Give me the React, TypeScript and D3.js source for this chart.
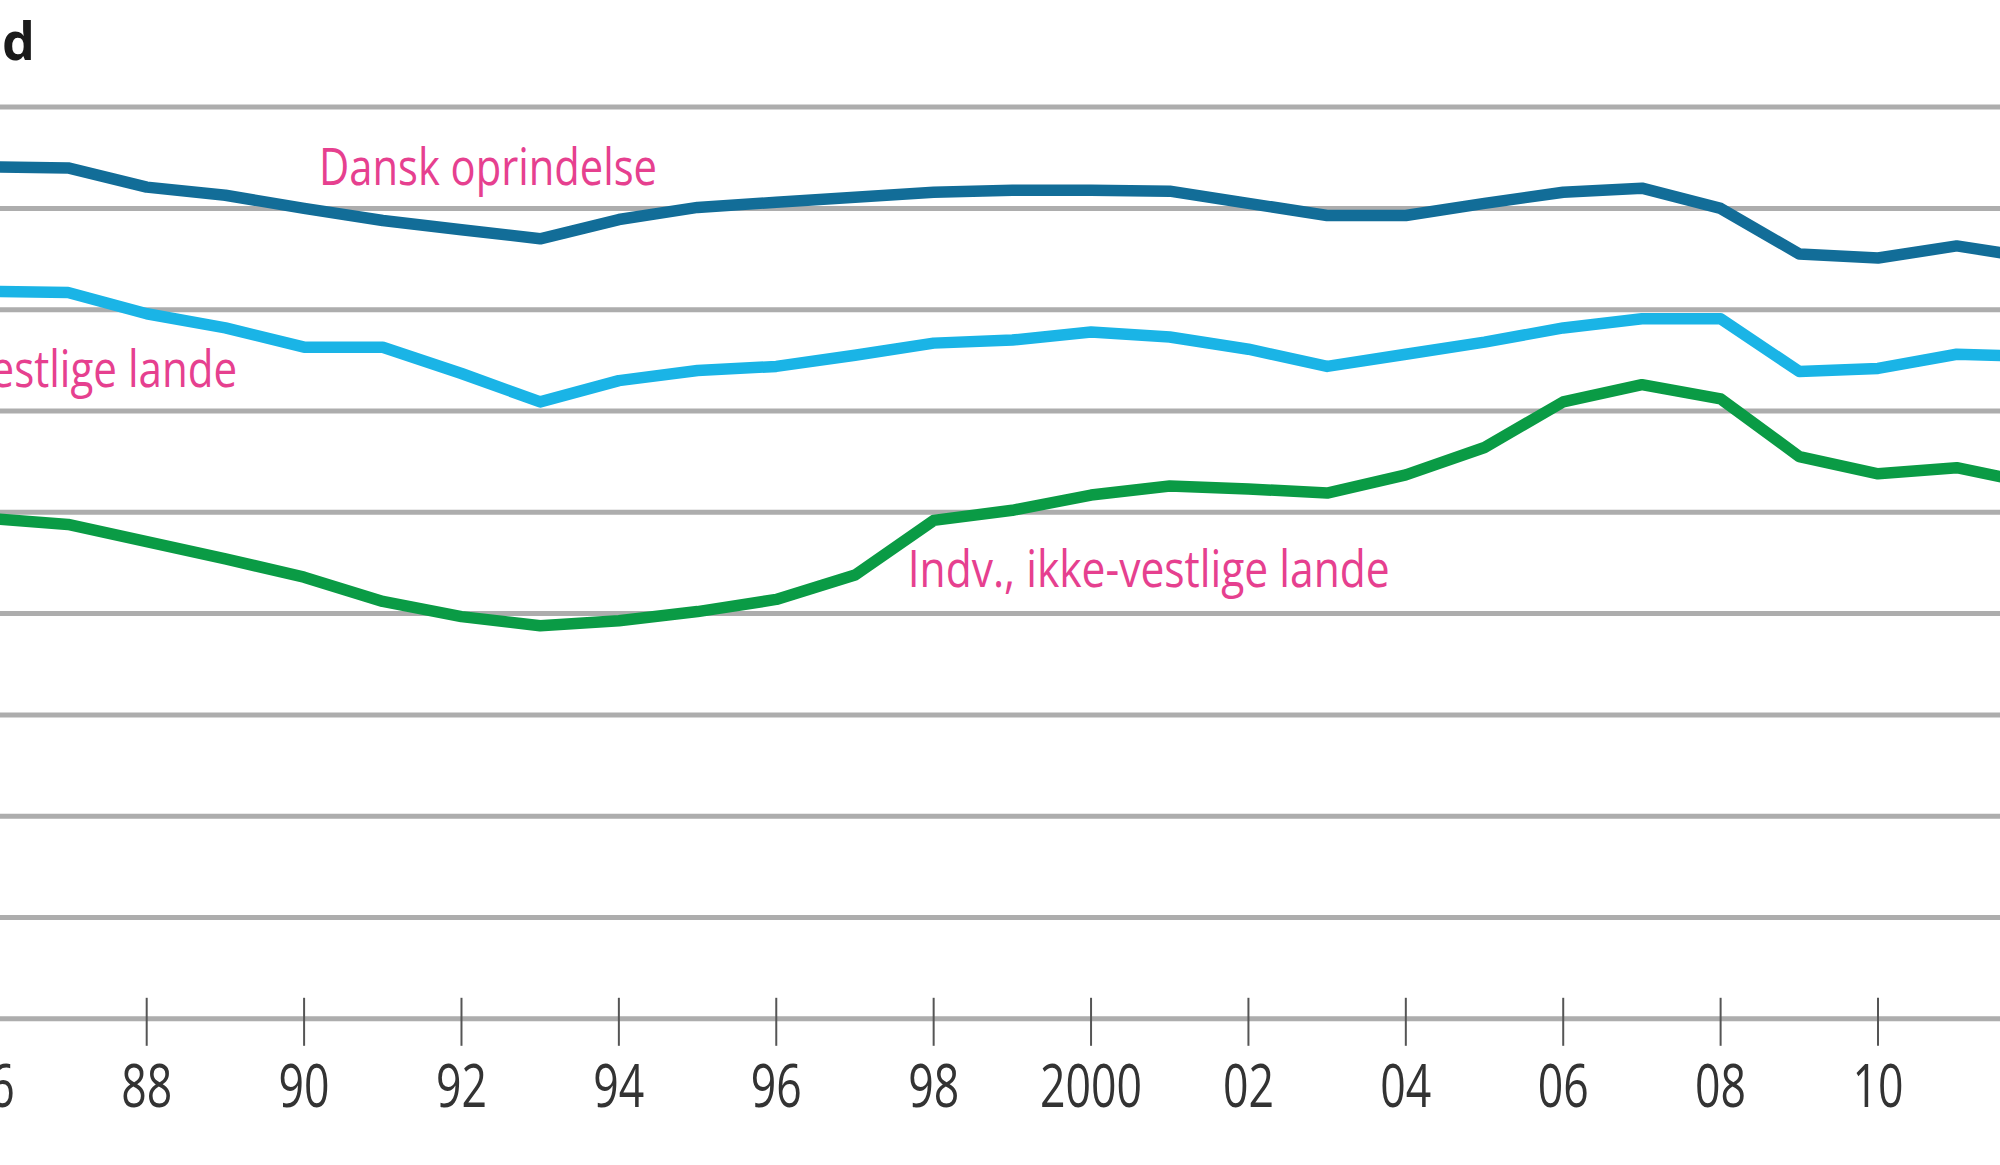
import React, { useEffect, useRef } from 'react';
import * as d3 from 'd3';

const WIDTH = 2000;
const HEIGHT = 1165;

const YEARS = [
  1986, 1987, 1988, 1989, 1990, 1991, 1992, 1993, 1994, 1995, 1996, 1997, 1998, 1999,
  2000, 2001, 2002, 2003, 2004, 2005, 2006, 2007, 2008, 2009, 2010, 2011, 2012,
];

const DANSK = [
  84.1, 84.0, 82.1, 81.3, 80.0, 78.8, 77.9, 77.0, 78.9, 80.1, 80.6, 81.1, 81.6, 81.8,
  81.8, 81.7, 80.5, 79.3, 79.3, 80.5, 81.6, 82.0, 80.0, 75.5, 75.1, 76.3, 75.1,
];

const VESTLIGE = [
  71.8, 71.7, 69.6, 68.2, 66.3, 66.3, 63.7, 60.9, 63.0, 64.0, 64.4, 65.5, 66.7, 67.0,
  67.8, 67.3, 66.1, 64.4, 65.6, 66.8, 68.2, 69.1, 69.1, 63.9, 64.2, 65.6, 65.4,
];

const IKKE_VESTLIGE = [
  49.4, 48.8, 47.1, 45.4, 43.6, 41.2, 39.7, 38.8, 39.3, 40.2, 41.4, 43.8, 49.2, 50.2,
  51.7, 52.6, 52.3, 51.9, 53.7, 56.4, 60.9, 62.6, 61.2, 55.5, 53.8, 54.4, 52.8,
];

const GRID_VALUES = [0, 10, 20, 30, 40, 50, 60, 70, 80, 90];
const TICK_YEARS = [1986, 1988, 1990, 1992, 1994, 1996, 1998, 2000, 2002, 2004, 2006, 2008, 2010];

const tickLabel = (year: number) => (year === 2000 ? '2000' : String(year).slice(2));

const SERIES = [
  { name: 'Dansk oprindelse', values: DANSK, color: '#126d98' },
  { name: 'Indv., vestlige lande', values: VESTLIGE, color: '#1ab4e6' },
  { name: 'Indv., ikke-vestlige lande', values: IKKE_VESTLIGE, color: '#0a9b45' },
];

const PINK = '#e6408f';
const FONT = '"Open Sans", "Noto Sans", sans-serif';

export default function App() {
  const svgRef = useRef<SVGSVGElement>(null);

  useEffect(() => {
    if (!svgRef.current) return;
    const svg = d3.select(svgRef.current);
    svg.selectAll('*').remove();

    const x = d3.scaleLinear().domain([1988, 2010]).range([146.7, 1878]);
    const y = d3.scaleLinear().domain([0, 90]).range([1018.8, 107.1]);

    // Title, mostly cut off at the left edge
    svg.append('text')
      .attr('x', 35)
      .attr('y', 60)
      .attr('text-anchor', 'end')
      .attr('font-family', FONT)
      .attr('font-weight', 700)
      .attr('font-size', 52)
      .attr('fill', '#1a1a1a')
      .text('Beskæftigelsesgrad');

    // Gridlines
    svg.append('g')
      .selectAll('line')
      .data(GRID_VALUES)
      .join('line')
      .attr('x1', 0)
      .attr('x2', WIDTH)
      .attr('y1', d => y(d))
      .attr('y2', d => y(d))
      .attr('stroke', '#adadad')
      .attr('stroke-width', 5);

    // Year ticks
    svg.append('g')
      .selectAll('line')
      .data(TICK_YEARS)
      .join('line')
      .attr('x1', d => x(d))
      .attr('x2', d => x(d))
      .attr('y1', y(0) - 21)
      .attr('y2', y(0) + 27)
      .attr('stroke', '#555')
      .attr('stroke-width', 2);

    svg.append('g')
      .selectAll('text')
      .data(TICK_YEARS)
      .join('text')
      .attr('x', d => x(d))
      .attr('y', 1107)
      .attr('text-anchor', 'middle')
      .attr('font-family', FONT)
      .attr('font-size', 61)
      .attr('fill', '#333')
      .attr('textLength', d => tickLabel(d).length * 25.5)
      .attr('lengthAdjust', 'spacingAndGlyphs')
      .text(d => tickLabel(d));

    // Lines
    const line = d3.line<number>()
      .x((_, i) => x(YEARS[i]))
      .y(d => y(d));

    SERIES.forEach(s => {
      svg.append('path')
        .datum(s.values)
        .attr('d', line)
        .attr('fill', 'none')
        .attr('stroke', s.color)
        .attr('stroke-width', 11.5)
        .attr('stroke-linejoin', 'round');
    });

    // Series labels
    const labels = [
      { text: SERIES[0].name, year: 1990.19, value: 82.3, anchor: 'start', length: 338 },
      { text: SERIES[1].name, year: 1989.15, value: 62.4, anchor: 'end', length: 385 },
      { text: SERIES[2].name, year: 1997.67, value: 42.6, anchor: 'start', length: 482 },
    ];

    svg.append('g')
      .selectAll('text')
      .data(labels)
      .join('text')
      .attr('x', d => x(d.year))
      .attr('y', d => y(d.value))
      .attr('text-anchor', d => d.anchor)
      .attr('font-family', FONT)
      .attr('font-size', 52)
      .attr('fill', PINK)
      .attr('textLength', d => d.length)
      .attr('lengthAdjust', 'spacingAndGlyphs')
      .text(d => d.text);
  }, []);

  return (
    <svg
      ref={svgRef}
      width={WIDTH}
      height={HEIGHT}
      style={{ position: 'absolute', left: 0, top: 0, background: '#fff' }}
    />
  );
}
